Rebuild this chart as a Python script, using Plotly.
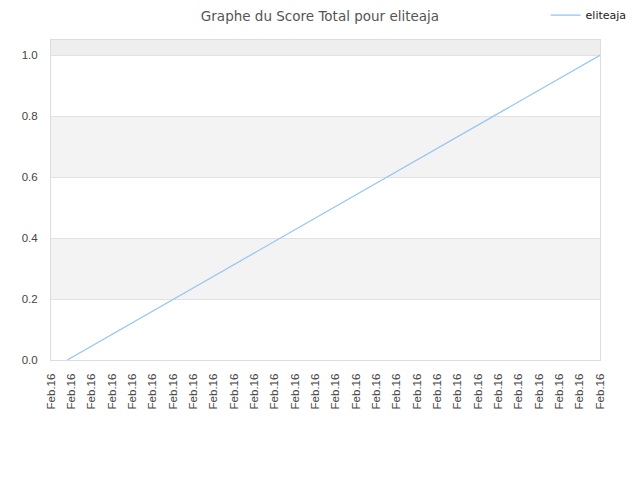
import plotly.graph_objects as go

title = "Graphe du Score Total pour eliteaja"
player = "eliteaja"

# x axis: one label per tick, all the same day
tick_labels = ["Feb.16"] * 28
tick_pos = list(range(len(tick_labels)))

# score readings (tick position, score)
score_x = [0.8, 27]
score_y = [0.0, 1.0]

# y bands that are shaded grey, with their fill
bands = [(0.2, 0.4), (0.6, 0.8), (1.0, 1.2)]
band_fills = ["#f3f3f3", "#f3f3f3", "#eeeeee"]

fig = go.Figure()
fig.add_trace(go.Scatter(x=score_x, y=score_y, mode="lines", name=player,
                         line=dict(color="#92c4f3", width=1.2)))

for (lo, hi), fill in zip(bands, band_fills):
    fig.add_shape(type="rect", xref="paper", yref="y", x0=0, x1=1, y0=lo, y1=hi,
                  fillcolor=fill, line_width=0, layer="below")

# the page body adds an 8px offset, margins are set to compensate
fig.update_layout(
    width=640, height=480,
    margin=dict(l=43, r=48, t=32, b=128, autoexpand=False),
    paper_bgcolor="white", plot_bgcolor="white",
    font=dict(family="DejaVu Sans", size=11, color="#444"),
    title=dict(text=title, x=0.4875, xanchor="center", y=0.982, yanchor="middle",
               font=dict(size=13.5, color="#555")),
    showlegend=True,
    legend=dict(xref="container", yref="container", x=0.84, y=0.985,
                xanchor="left", yanchor="middle",
                font=dict(size=11, color="#222"), itemwidth=30,
                bgcolor="rgba(0,0,0,0)"),
)
fig.update_xaxes(range=[0, 27], tickvals=tick_pos, ticktext=tick_labels,
                 tickangle=-90, showgrid=False, zeroline=False, automargin=False,
                 showline=True, linecolor="#dddddd", mirror=True,
                 ticks="", ticklabelstandoff=8,
                 tickfont=dict(family="Liberation Sans", size=11.5, color="#444"))
fig.update_yaxes(range=[0, 1.05], tickvals=[0, 0.2, 0.4, 0.6, 0.8, 1.0],
                 tickformat=".1f", showgrid=True, gridcolor="#e2e2e2",
                 zeroline=False, showline=True, linecolor="#dddddd", mirror=True,
                 automargin=False, ticks="", ticklabelstandoff=10,
                 tickfont=dict(family="Liberation Sans", size=11.5, color="#444"))

fig.write_html("out.html")
